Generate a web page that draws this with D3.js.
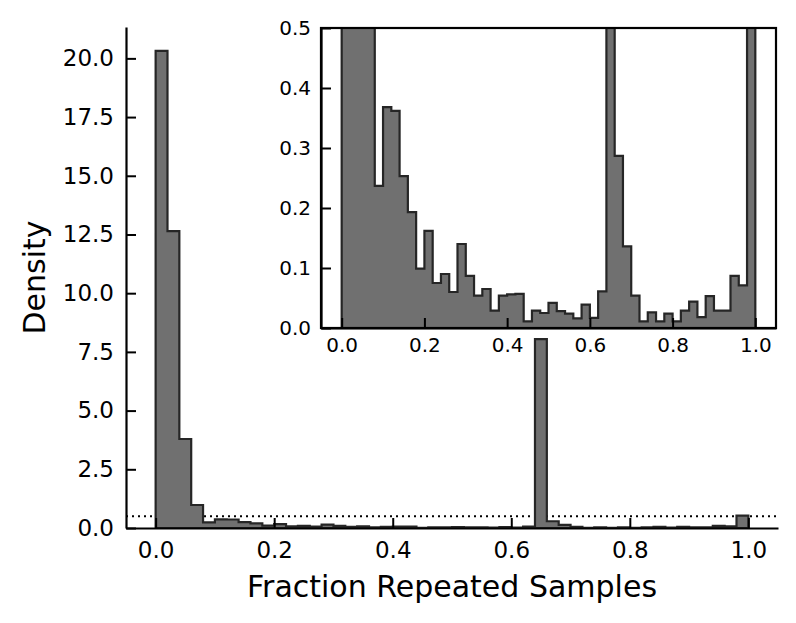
<!DOCTYPE html>
<html>
<head>
<meta charset="utf-8">
<script src="https://cdn.jsdelivr.net/npm/d3@7"></script>
<style>
  body { margin: 0; background: #fff; }
  svg text { font-family: "DejaVu Sans", sans-serif; fill: #000; }
</style>
</head>
<body>
<div id="chart"></div>
<script>
// histogram of fraction repeated samples, 50 bins of width 0.02 on [0, 1]
const binWidth = 0.02;
const density = [
  20.32, 12.64, 3.79, 0.98, 0.237, 0.368, 0.362, 0.253, 0.193, 0.099,
  0.162, 0.075, 0.090, 0.060, 0.140, 0.087, 0.054, 0.065, 0.029, 0.054,
  0.056, 0.057, 0.011, 0.029, 0.025, 0.042, 0.028, 0.024, 0.016, 0.039,
  0.017, 0.061, 8.04, 0.287, 0.136, 0.054, 0.011, 0.026, 0.011, 0.024,
  0.011, 0.029, 0.044, 0.018, 0.053, 0.029, 0.029, 0.087, 0.071, 0.53
];
const xTicks = [0, 0.2, 0.4, 0.6, 0.8, 1.0];
const mainYTicks = [0, 2.5, 5, 7.5, 10, 12.5, 15, 17.5, 20];
const insetYTicks = [0, 0.1, 0.2, 0.3, 0.4, 0.5];
const cutoff = 0.5; // dotted line, also the inset's y max

const fillCol = "#707070", edgeCol = "#262626";

const svg = d3.select("#chart").append("svg")
  .attr("width", 796)
  .attr("height", 623);

// bin start positions, plus the closing edge at 1.0
const steps = density.map((d, i) => ({x: i * binWidth, y: d}));
steps.push({x: density.length * binWidth, y: density[density.length - 1]});

function styleAxis(g, size) {
  g.attr("font-size", size).attr("font-family", "DejaVu Sans");
  g.select(".domain").attr("stroke", "#000").attr("stroke-width", 2.2);
  g.selectAll(".tick line").attr("stroke", "#000").attr("stroke-width", 2);
  g.selectAll(".tick text").attr("fill", "#000");
}

// ---------- main axes ----------
const x = d3.scaleLinear().domain([-0.05, 1.05]).range([126, 778]);
const y = d3.scaleLinear().domain([0, d3.max(density) * 1.05]).range([528, 27]);

// dotted threshold line sits behind the bars
svg.append("line")
  .attr("x1", x(-0.05)).attr("x2", x(1.05))
  .attr("y1", y(cutoff)).attr("y2", y(cutoff))
  .attr("stroke", "#000")
  .attr("stroke-width", 1.8)
  .attr("stroke-dasharray", "2,4");

const mainArea = d3.area()
  .curve(d3.curveStepAfter)
  .x(d => x(d.x))
  .y0(y(0))
  .y1(d => y(d.y));

svg.append("path")
  .datum(steps)
  .attr("d", mainArea)
  .attr("fill", fillCol)
  .attr("stroke", edgeCol)
  .attr("stroke-width", 2.2)
  .attr("stroke-linejoin", "miter");

svg.append("g")
  .attr("transform", "translate(0,528)")
  .call(d3.axisBottom(x).tickValues(xTicks).tickFormat(d3.format(".1f"))
    .tickSizeInner(-10).tickSizeOuter(0).tickPadding(14))
  .call(g => styleAxis(g, 23));

svg.append("g")
  .attr("transform", "translate(126,0)")
  .call(d3.axisLeft(y).tickValues(mainYTicks).tickFormat(d3.format(".1f"))
    .tickSizeInner(-10).tickSizeOuter(0).tickPadding(12))
  .call(g => styleAxis(g, 23));

svg.append("text")
  .attr("x", (126 + 778) / 2)
  .attr("y", 597)
  .attr("text-anchor", "middle")
  .attr("font-size", 30)
  .text("Fraction Repeated Samples");

svg.append("text")
  .attr("transform", "translate(45," + (27 + 528) / 2 + ") rotate(-90)")
  .attr("text-anchor", "middle")
  .attr("font-size", 30)
  .text("Density");

// ---------- inset ----------
const ix = d3.scaleLinear().domain([-0.05, 1.05]).range([321, 776]);
const iy = d3.scaleLinear().domain([0, cutoff]).range([328, 28]);

svg.append("rect")
  .attr("x", 321).attr("y", 28)
  .attr("width", 776 - 321).attr("height", 328 - 28)
  .attr("fill", "#fff");

svg.append("clipPath").attr("id", "inset-clip")
  .append("rect")
  .attr("x", 321).attr("y", 28)
  .attr("width", 776 - 321).attr("height", 328 - 28);

const insetArea = d3.area()
  .curve(d3.curveStepAfter)
  .x(d => ix(d.x))
  .y0(iy(0))
  .y1(d => iy(d.y));

svg.append("path")
  .datum(steps)
  .attr("clip-path", "url(#inset-clip)")
  .attr("d", insetArea)
  .attr("fill", fillCol)
  .attr("stroke", edgeCol)
  .attr("stroke-width", 2.2);

svg.append("g")
  .attr("transform", "translate(0,328)")
  .call(d3.axisBottom(ix).tickValues(xTicks).tickFormat(d3.format(".1f"))
    .tickSizeInner(-10).tickSizeOuter(0).tickPadding(10))
  .call(g => styleAxis(g, 20));

svg.append("g")
  .attr("transform", "translate(321,0)")
  .call(d3.axisLeft(iy).tickValues(insetYTicks).tickFormat(d3.format(".1f"))
    .tickSizeInner(-10).tickSizeOuter(0).tickPadding(10))
  .call(g => styleAxis(g, 20));

// inset frame
svg.append("rect")
  .attr("x", 321).attr("y", 28)
  .attr("width", 776 - 321).attr("height", 328 - 28)
  .attr("fill", "none")
  .attr("stroke", "#000")
  .attr("stroke-width", 2.2);
</script>
</body>
</html>
